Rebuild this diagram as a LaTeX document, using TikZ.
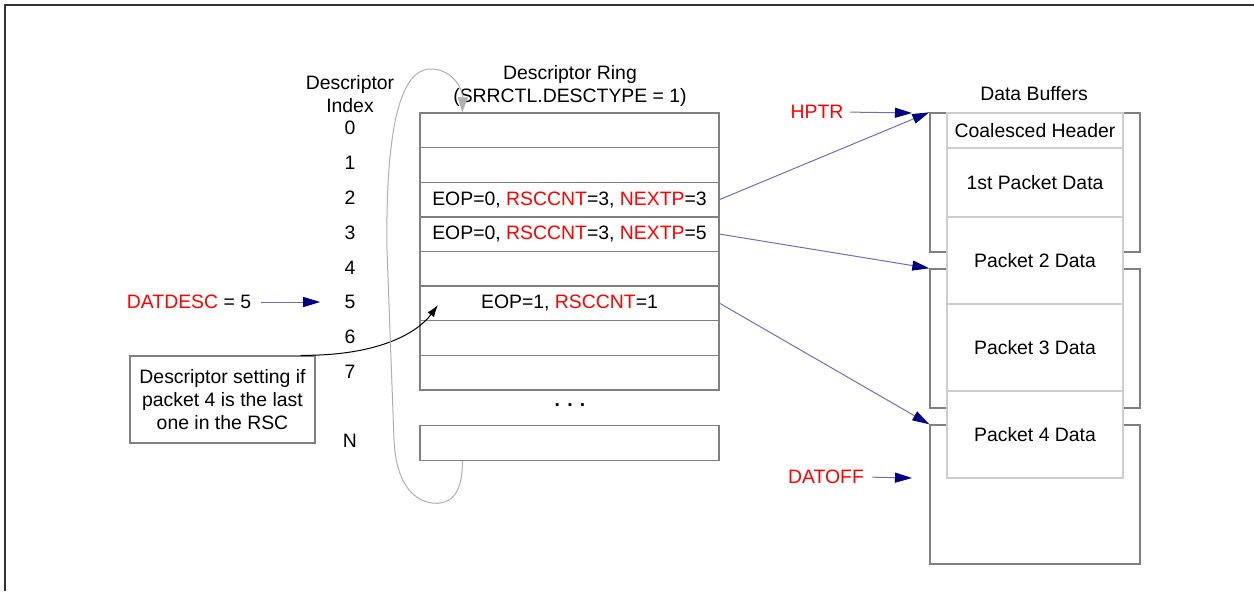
\documentclass[tikz,border=0pt]{standalone}
\usepackage{fontspec}
\setmainfont{Liberation Sans}
\usetikzlibrary{arrows.meta}
\definecolor{navytip}{RGB}{0,0,128}
\definecolor{connc}{RGB}{110,110,190}
\definecolor{boxgray}{RGB}{128,128,128}
\definecolor{cellgray}{RGB}{205,205,205}
\definecolor{loopgray}{RGB}{175,175,175}
\definecolor{framegray}{RGB}{50,50,50}
\definecolor{rd}{RGB}{255,0,0}
\begin{document}
\begin{tikzpicture}[x=0.5pt,y=-0.5pt,
  every node/.style={font=\fontsize{9.7}{11.4}\selectfont, inner sep=0pt},
  ringrow/.style={draw=boxgray, line width=0.7pt, fill=white, minimum width=149.5pt, minimum height=17.3pt},
  outerbuf/.style={draw=boxgray, line width=0.7pt, minimum width=105pt, minimum height=69.5pt},
  cell/.style={draw=cellgray, line width=0.6pt, fill=white, minimum width=88pt},
  conn/.style={draw=connc, line width=0.5pt, -{Triangle[length=8.5pt,width=5pt,color=navytip]}},
  lbl/.style={align=center},
  redt/.style={text=rd}]
\useasboundingbox (0,0) rectangle (1254,591);
% frame
\draw[framegray, line width=1pt] (5,591) -- (5,5) -- (1254,5);

% titles
\node[lbl] (idxt) at (350,94) {Descriptor\\Index};
\node[lbl] (ringt) at (570,86) {Descriptor Ring\\(SRRCTL.DESCTYPE = 1)};
\node (buft) at (1034,94) {Data Buffers};

% index labels
\node (i0) at (350,128) {0};
\node (i1) at (350,163) {1};
\node (i2) at (350,198) {2};
\node (i3) at (350,233) {3};
\node (i4) at (350,268) {4};
\node (i5) at (350,302) {5};
\node (i6) at (350,337) {6};
\node (i7) at (350,372) {7};
\node (iN) at (350,441) {N};

% ring rows
\node[ringrow] (r0) at (569.5,130.3) {};
\node[ringrow] (r1) at (569.5,164.9) {};
\node[ringrow] (r2) at (569.5,199.5) {EOP=0, \textcolor{rd}{RSCCNT}=3, \textcolor{rd}{NEXTP}=3};
\node[ringrow] (r3) at (569.5,234.1) {EOP=0, \textcolor{rd}{RSCCNT}=3, \textcolor{rd}{NEXTP}=5};
\node[ringrow] (r4) at (569.5,268.7) {};
\node[ringrow] (r5) at (569.5,303.3) {EOP=1, \textcolor{rd}{RSCCNT}=1};
\node[ringrow] (r6) at (569.5,337.9) {};
\node[ringrow] (r7) at (569.5,372.5) {};
\node (dots) at (570,405) {\textbf{. . .}};
\node[ringrow] (rN) at (569.5,443) {};

% data buffers: outer boxes
\node[outerbuf] (b1) at (1035,182.5) {};
\node[outerbuf] (b2) at (1035,338.5) {};
\node[outerbuf] (b3) at (1035,494.5) {};
% inner cells
\node[cell, minimum height=17.5pt] (c0) at (1035,130.5) {Coalesced Header};
\node[cell, minimum height=34.5pt] (c1) at (1035,182.5) {1st Packet Data};
\node[cell, minimum height=43.5pt] (c2) at (1035,260.5) {Packet 2 Data};
\node[cell, minimum height=43.5pt] (c3) at (1035,347.5) {Packet 3 Data};
\node[cell, minimum height=43.5pt] (c4) at (1035,434.5) {Packet 4 Data};

% pointer labels
\node[redt] (hptr) at (817,112) {HPTR};
\coordinate (hptrend) at (912,113);
\draw[conn, shorten <=3pt] (hptr.east) -- (hptrend);
\node[redt] (datoff) at (826,477) {DATOFF};
\coordinate (datoffend) at (912,478);
\draw[conn, shorten <=4pt] (datoff.east) -- (datoffend);
\node (datdesc) at (189,302) {\textcolor{rd}{DATDESC} = 5};
\draw[conn, shorten <=5pt, shorten >=12pt] (datdesc.east) -- (i5.west);

% descriptor to buffer connectors
\draw[conn] (r2.east) -- (b1.north west);
\draw[conn] (r3.east) -- (b2.north west);
\draw[conn] (r5.east) -- (b3.north west);

% note box
\node[draw=boxgray, line width=0.7pt, minimum width=92.5pt, minimum height=43.5pt, align=center, fill=white] (setting) at (222.5,399.5)
  {Descriptor setting if\\packet 4 is the last\\one in the RSC};
\coordinate (c5) at (438,305);
\draw[black, line width=0.5pt, -{Latex[length=6pt,width=4pt]}]
  ([xshift=-7.5pt]setting.north east) .. controls (380,356) and (418,332) .. (c5);

% ring wrap-around loop
\draw[loopgray, line width=0.5pt, -{Triangle[length=7.5pt,width=5pt]}]
  ([xshift=21.5pt]rN.south west) .. controls (463,498) and (447,505) .. (432,503)
  .. controls (412,500) and (396,482) .. (394,440)
  -- (387,250)
  .. controls (385,95) and (410,68) .. (432,69)
  .. controls (455,70) and (463,92) .. ([xshift=21.5pt]r0.north west);
\end{tikzpicture}
\end{document}
